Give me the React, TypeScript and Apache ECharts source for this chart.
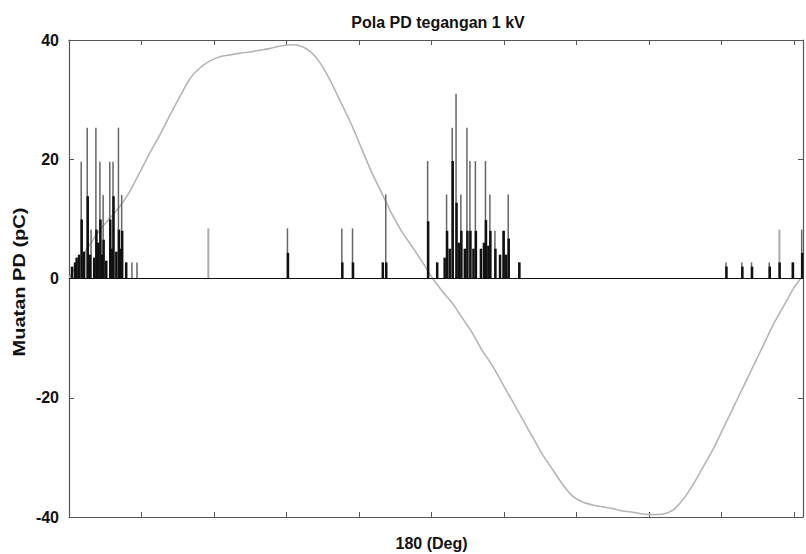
import React, { useEffect, useRef } from "react";
import * as echarts from "echarts";

const TITLE = "Pola PD tegangan 1 kV";
const Y_NAME = "Muatan PD (pC)";
const X_LABEL = "180 (Deg)";

// Applied-voltage reference wave (phase in degrees, scaled to pC axis)
const wavePhase = [0, 5, 10, 15, 20, 25, 30, 35, 40, 45, 50, 55, 60, 65, 70, 75, 80, 85, 90, 95, 100, 105, 110, 115, 120, 125, 130, 135, 140, 145, 150, 155, 160, 165, 170, 175, 180, 185, 190, 195, 200, 205, 210, 215, 220, 225, 230, 235, 240, 245, 250, 255, 260, 265, 270, 275, 280, 285, 290, 295, 300, 305, 310, 315, 320, 325, 330, 335, 340, 345, 350, 355, 360, 364.4];
const waveCharge = [0, 3, 5.5, 8, 10, 12, 14.5, 17.7, 21, 24, 27.3, 30.5, 33.5, 35.3, 36.5, 37.2, 37.5, 37.8, 38, 38.3, 38.6, 39, 39.2, 39, 38, 36, 33, 29.5, 26, 22, 18, 14.5, 11, 8, 5.5, 3, 0.3, -2, -4, -6.5, -9, -12, -14.5, -17.5, -20.5, -23.5, -26.5, -29.5, -32, -34.5, -36.5, -37.5, -38, -38.3, -38.6, -39, -39.2, -39.5, -39.6, -39.5, -38.8, -37, -34.5, -31.5, -28.5, -25, -21.5, -18, -14.5, -11, -7.5, -4.5, -1.5, 0.5];

// Maximum PD magnitude per phase window
const peakPhase = [3.8, 6.3, 9.3, 11.2, 13.6, 15.6, 17.2, 20.5, 22.1, 24.8, 26.4, 28.4, 31.5, 34.0, 108.7, 135.7, 141.0, 157.5, 178.3, 182.8, 187.7, 190.5, 192.4, 194.8, 197.8, 199.3, 202.0, 207.0, 209.2, 211.7, 215.8, 218.3, 223.6, 326.4, 334.3, 339.1, 347.9, 359.4, 364.0];
const peakCharge = [2.7, 19.6, 25.3, 8.2, 25.3, 19.6, 14.0, 19.6, 19.6, 25.3, 14.0, 2.7, 2.7, 2.7, 8.4, 8.4, 8.4, 14.1, 19.7, 2.7, 14.1, 25.3, 31.0, 14.1, 25.3, 19.7, 19.7, 19.7, 14.1, 8.0, 8.0, 14.1, 2.7, 2.7, 2.7, 2.7, 2.7, 2.7, 8.2];

// Sparse (faint) pulses
const faintPhase = [69.3, 352.8];
const faintCharge = [8.4, 8.2];

// Dense low-magnitude pulses
const densePhase = [1.5, 3.0, 3.8, 5.0, 6.3, 7.5, 9.3, 10.5, 12.5, 13.6, 14.5, 15.6, 16.5, 17.2, 18.5, 20.5, 21.3, 22.1, 23.5, 24.8, 25.6, 26.4, 28.4, 108.7, 135.7, 141.0, 155.8, 157.5, 178.3, 182.8, 186.5, 187.7, 189.0, 190.5, 192.4, 193.5, 194.8, 196.5, 197.8, 199.3, 200.8, 202.0, 204.5, 206.0, 207.0, 208.2, 209.2, 211.7, 214.0, 215.8, 217.0, 218.3, 223.6, 326.4, 334.3, 339.1, 347.9, 352.8, 359.4, 364.0];
const denseCharge = [2.0, 2.7, 3.5, 4.0, 9.9, 4.5, 13.8, 4.0, 3.5, 8.2, 6.0, 9.9, 4.0, 6.5, 3.0, 9.9, 5.0, 13.8, 4.5, 8.2, 5.0, 8.0, 2.7, 4.3, 2.7, 2.7, 2.7, 2.7, 9.6, 2.7, 3.5, 8.0, 5.0, 19.7, 12.7, 6.0, 8.0, 5.0, 8.0, 8.0, 5.0, 8.0, 5.0, 6.0, 9.8, 5.5, 8.0, 5.0, 4.0, 8.0, 4.0, 6.7, 2.7, 2.0, 2.0, 2.0, 2.0, 2.7, 2.7, 4.3];

const FONT = "'Liberation Sans', Arial, Helvetica, sans-serif";
const AXIS_COLOR = "#555";

export default function App() {
  const ref = useRef<HTMLDivElement>(null);

  useEffect(() => {
    document.body.style.margin = "0";
    if (!ref.current) return;
    const chart = echarts.init(ref.current, null, { renderer: "svg" });

    const pair = (xs: number[], ys: number[]) => xs.map((x, i) => [x, ys[i]]);

    const xBase = {
      type: "value" as const,
      min: 0,
      max: 364.4,
      interval: 36,
      splitLine: { show: false },
      axisLine: { show: true, onZero: false, lineStyle: { color: AXIS_COLOR, width: 1.2 } },
      axisTick: { show: true, inside: true, length: 5, lineStyle: { color: AXIS_COLOR, width: 1 } },
    };
    const yBase = {
      type: "value" as const,
      min: -40,
      max: 40,
      interval: 20,
      splitLine: { show: false },
      axisLine: { show: true, onZero: false, lineStyle: { color: AXIS_COLOR, width: 1.2 } },
      axisTick: { show: true, inside: true, length: 5, lineStyle: { color: AXIS_COLOR, width: 1 } },
    };

    chart.setOption({
      animation: false,
      backgroundColor: "#fff",
      title: {
        text: TITLE,
        left: 433,
        top: 9,
        textAlign: "center",
        textStyle: { fontSize: 16, fontWeight: "bold", color: "#111", fontFamily: FONT },
      },
      grid: { left: 69, right: 1, top: 40, bottom: 37, containLabel: false },
      xAxis: [
        {
          ...xBase,
          position: "bottom",
          axisLabel: {
            show: true,
            margin: 18,
            fontSize: 16,
            fontWeight: "bold",
            color: "#111",
            fontFamily: FONT,
            formatter: (v: number) => (v === 180 ? X_LABEL : ""),
          },
        },
        { ...xBase, position: "top", axisLabel: { show: false } },
      ],
      yAxis: [
        {
          ...yBase,
          position: "left",
          axisLabel: { show: true, margin: 10, fontSize: 16, fontWeight: "bold", color: "#111", fontFamily: FONT },
        },
        { ...yBase, position: "right", axisLabel: { show: false } },
      ],
      graphic: [
        {
          type: "text",
          x: 20,
          y: 282,
          rotation: Math.PI / 2,
          scaleX: 1.25,
          style: {
            text: Y_NAME,
            fontSize: 16,
            fontWeight: "bold",
            fontFamily: FONT,
            fill: "#111",
            textAlign: "center",
            textVerticalAlign: "middle",
            align: "center",
            verticalAlign: "middle",
          },
        },
      ],
      series: [
        {
          name: "Tegangan",
          type: "line",
          xAxisIndex: 0,
          yAxisIndex: 0,
          data: pair(wavePhase, waveCharge),
          showSymbol: false,
          symbol: "none",
          smooth: 0.2,
          lineStyle: { color: "#b5b5b5", width: 1.6 },
          z: 1,
          markLine: {
            silent: true,
            symbol: "none",
            label: { show: false },
            lineStyle: { color: "#111", width: 1.2, type: "solid" },
            data: [{ yAxis: 0 }],
          },
        },
        {
          name: "Faint",
          type: "bar",
          xAxisIndex: 0,
          yAxisIndex: 0,
          data: pair(faintPhase, faintCharge),
          barWidth: 2,
          barGap: "-100%",
          itemStyle: { color: "#aaa" },
          z: 2,
        },
        {
          name: "Peak",
          type: "bar",
          xAxisIndex: 0,
          yAxisIndex: 0,
          data: pair(peakPhase, peakCharge),
          barWidth: 1.5,
          barGap: "-100%",
          itemStyle: { color: "#666" },
          z: 3,
        },
        {
          name: "Dense",
          type: "bar",
          xAxisIndex: 0,
          yAxisIndex: 0,
          data: pair(densePhase, denseCharge),
          barWidth: 2.5,
          barGap: "-100%",
          itemStyle: { color: "#111" },
          z: 4,
        },
      ],
    });

    return () => chart.dispose();
  }, []);

  return <div ref={ref} style={{ width: 806, height: 554 }} />;
}
